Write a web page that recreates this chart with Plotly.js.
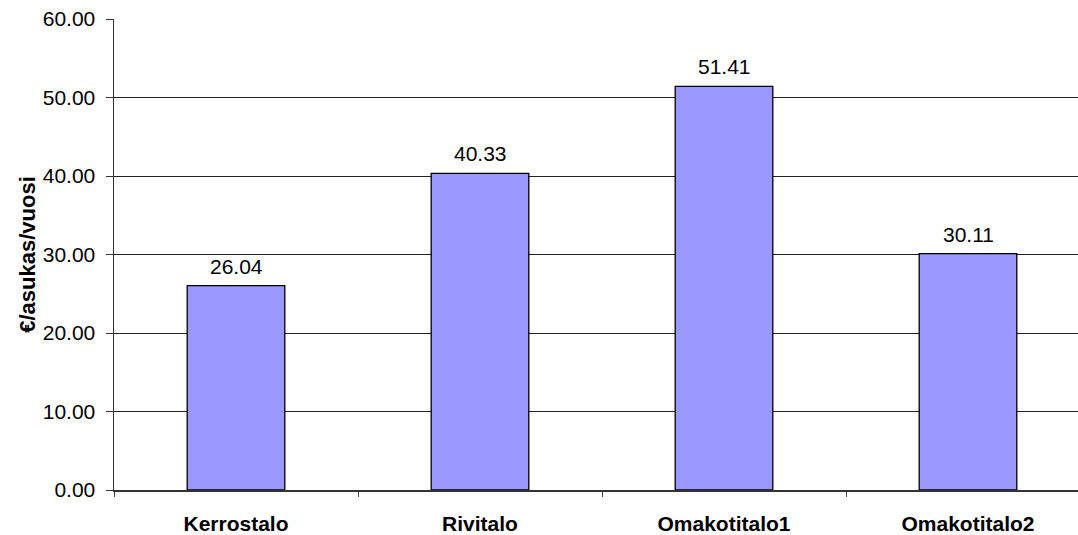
<!DOCTYPE html>
<html>
<head>
<meta charset="utf-8">
<script src="https://cdn.plot.ly/plotly-3.0.1.min.js"></script>
<style>
html,body{margin:0;padding:0;overflow:hidden;background:#fff;}
#chart{width:1090px;height:535px;}
</style>
</head>
<body>
<div id="chart"></div>
<script>
const categories = ["Kerrostalo", "Rivitalo", "Omakotitalo1", "Omakotitalo2"];
const values = [26.04, 40.33, 51.41, 30.11];
const valueLabels = ["26.04", "40.33", "51.41", "30.11"];
const yTickVals = [0, 10, 20, 30, 40, 50, 60];
const yTickText = ["0.00", "10.00", "20.00", "30.00", "40.00", "50.00", "60.00"];
const yTitle = "€/asukas/vuosi";

const FONT = "Liberation Sans, Arial, sans-serif";

const trace = {
  type: "bar",
  x: categories,
  y: values,
  width: 0.4,
  marker: {color: "#9999ff", line: {color: "#000", width: 1.3}},
  hoverinfo: "none"
};

const annotations = categories.map((c, i) => ({
  x: c,
  y: values[i],
  xref: "x",
  yref: "y",
  text: valueLabels[i],
  showarrow: false,
  yanchor: "bottom",
  yshift: 6,
  font: {family: FONT, size: 21, color: "#000"}
}));

const layout = {
  width: 1090,
  height: 535,
  margin: {l: 114, r: 0, t: 19, b: 45},
  paper_bgcolor: "#fff",
  plot_bgcolor: "#fff",
  showlegend: false,
  font: {family: FONT, color: "#000"},
  annotations: annotations,
  xaxis: {
    type: "category",
    tickson: "boundaries",
    ticks: "outside",
    ticklen: 5,
    tickcolor: "#444",
    showline: true,
    linecolor: "#333",
    linewidth: 1.5,
    showgrid: false,
    ticklabelstandoff: 14,
    tickfont: {family: FONT, size: 21, color: "#000", weight: "bold"},
    range: [-0.5, 3.5],
    fixedrange: true
  },
  yaxis: {
    range: [0, 60],
    tickvals: yTickVals,
    ticktext: yTickText,
    ticks: "outside",
    ticklen: 7,
    tickcolor: "#333",
    showline: true,
    linecolor: "#333",
    linewidth: 1.5,
    showgrid: true,
    gridcolor: "#222",
    gridwidth: 1,
    zeroline: false,
    ticklabelstandoff: 6,
    tickfont: {family: FONT, size: 21, color: "#000"},
    title: {text: "<b>" + yTitle + "</b>", font: {family: FONT, size: 22, color: "#000"}, standoff: 1},
    fixedrange: true
  }
};

Plotly.newPlot("chart", [trace], layout, {displayModeBar: false, staticPlot: true});
</script>
</body>
</html>
